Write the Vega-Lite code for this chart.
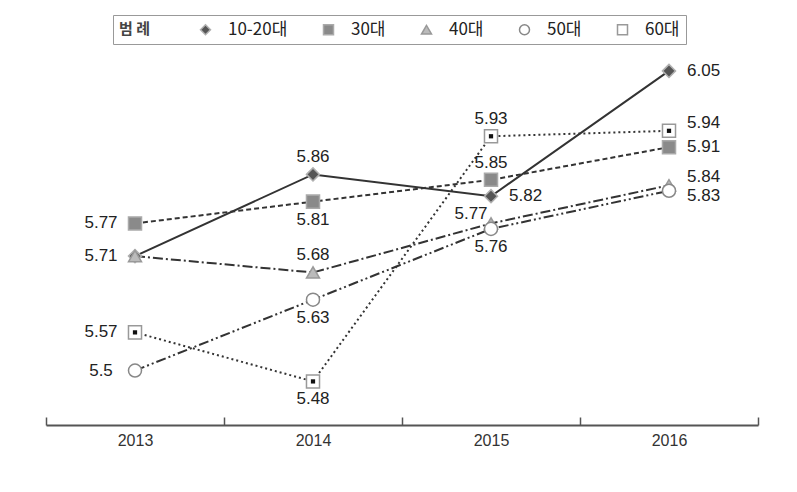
{
  "$schema": "https://vega.github.io/schema/vega-lite/v6.json",
  "width": 712,
  "height": 365,
  "autosize": "none",
  "padding": {"left": 46, "top": 60, "right": 39, "bottom": 67},
  "background": "white",
  "config": {
    "view": {"stroke": null},
    "font": "Liberation Sans",
    "legend": {
      "orient": "none", "legendX": 67, "legendY": -45, "direction": "horizontal", "columns": 5,
      "titleOrient": "left", "titleFont": "Noto Sans CJK KR", "titleFontSize": 15, "titleFontWeight": "bold", "titleColor": "#444", "titlePadding": 34,
      "labelFont": "Noto Sans CJK KR", "labelFontSize": 17, "labelColor": "#222",
      "symbolSize": 100, "symbolOffset": 12, "labelOffset": 14, "columnPadding": 20,
      "strokeColor": "#999", "padding": 6
    }
  },
  "data": {"values": [
    {"year": "2013", "group": "10-20대", "value": 5.71},
    {"year": "2014", "group": "10-20대", "value": 5.86},
    {"year": "2015", "group": "10-20대", "value": 5.82},
    {"year": "2016", "group": "10-20대", "value": 6.05},
    {"year": "2013", "group": "30대", "value": 5.77},
    {"year": "2014", "group": "30대", "value": 5.81},
    {"year": "2015", "group": "30대", "value": 5.85},
    {"year": "2016", "group": "30대", "value": 5.91},
    {"year": "2013", "group": "40대", "value": 5.71},
    {"year": "2014", "group": "40대", "value": 5.68},
    {"year": "2015", "group": "40대", "value": 5.77},
    {"year": "2016", "group": "40대", "value": 5.84},
    {"year": "2013", "group": "50대", "value": 5.50},
    {"year": "2014", "group": "50대", "value": 5.63},
    {"year": "2015", "group": "50대", "value": 5.76},
    {"year": "2016", "group": "50대", "value": 5.83},
    {"year": "2013", "group": "60대", "value": 5.57},
    {"year": "2014", "group": "60대", "value": 5.48},
    {"year": "2015", "group": "60대", "value": 5.93},
    {"year": "2016", "group": "60대", "value": 5.94}
  ]},
  "encoding": {
    "x": {"field": "year", "type": "ordinal", "title": null,
      "scale": {"type": "band", "paddingInner": 0, "paddingOuter": 0},
      "axis": {"labelAngle": 0, "labelFont": "Liberation Sans", "labelFontSize": 16, "labelColor": "#333", "domainColor": "#555", "domainWidth": 2, "tickColor": "#555", "tickWidth": 1.5, "tickSize": -8, "tickBand": "extent", "labelPadding": 15}},
    "y": {"field": "value", "type": "quantitative", "scale": {"domain": [5.4, 6.07], "zero": false, "nice": false}, "axis": null}
  },
  "layer": [
    {"transform": [{"filter": "datum.group == '10-20대'"}], "mark": {"type": "line", "strokeWidth": 2, "color": "#333"}},
    {"transform": [{"filter": "datum.group == '30대'"}], "mark": {"type": "line", "strokeWidth": 2, "color": "#333", "strokeDash": [5, 3]}},
    {"transform": [{"filter": "datum.group == '40대'"}], "mark": {"type": "line", "strokeWidth": 2, "color": "#333", "strokeDash": [10, 3, 2, 3]}},
    {"transform": [{"filter": "datum.group == '50대'"}], "mark": {"type": "line", "strokeWidth": 2, "color": "#333", "strokeDash": [10, 3, 2, 3, 2, 3]}},
    {"transform": [{"filter": "datum.group == '60대'"}], "mark": {"type": "line", "strokeWidth": 2, "color": "#333", "strokeDash": [2, 3]}},
    {
      "mark": {"type": "point", "filled": true, "strokeWidth": 1.5, "opacity": 1},
      "encoding": {
        "shape": {"field": "group", "type": "nominal", "title": "범 례",
          "scale": {"domain": ["10-20대", "30대", "40대", "50대", "60대"], "range": ["diamond", "square", "triangle-up", "circle", "square"]}},
        "fill": {"field": "group", "type": "nominal", "title": "범 례",
          "scale": {"domain": ["10-20대", "30대", "40대", "50대", "60대"], "range": ["#555555", "#8a8a8a", "#bbbbbb", "#ffffff", "#ffffff"]}},
        "stroke": {"field": "group", "type": "nominal", "title": "범 례",
          "scale": {"domain": ["10-20대", "30대", "40대", "50대", "60대"], "range": ["#b0b0b0", "#aaaaaa", "#999999", "#888888", "#999999"]}},
        "size": {"value": 170}
      }
    },
    {"transform": [{"filter": "datum.group == '60대'"}], "mark": {"type": "square", "size": 18, "color": "#111", "opacity": 1}},
    {
      "transform": [{"filter": "datum.year == '2013' && datum.group != '40대'"}],
      "mark": {"type": "text", "fontSize": 17, "color": "#222", "align": "center", "baseline": "middle", "dx": -34},
      "encoding": {"text": {"field": "value", "type": "quantitative", "format": ".3~g"}}
    },
    {
      "transform": [{"filter": "(datum.year == '2016' && datum.group != '60대' && datum.group != '40대' && datum.group != '50대') || (datum.year == '2015' && datum.group == '10-20대')"}],
      "mark": {"type": "text", "fontSize": 17, "color": "#222", "align": "left", "baseline": "middle", "dx": 18},
      "encoding": {"text": {"field": "value", "type": "quantitative", "format": ".3~g"}}
    },
    {
      "transform": [{"filter": "datum.year == '2016' && datum.group == '50대'"}],
      "mark": {"type": "text", "fontSize": 17, "color": "#222", "align": "left", "baseline": "middle", "dx": 18, "dy": 5},
      "encoding": {"text": {"field": "value", "type": "quantitative", "format": ".3~g"}}
    },
    {
      "transform": [{"filter": "datum.year == '2016' && (datum.group == '60대' || datum.group == '40대')"}],
      "mark": {"type": "text", "fontSize": 17, "color": "#222", "align": "left", "baseline": "middle", "dx": 18, "dy": -8},
      "encoding": {"text": {"field": "value", "type": "quantitative", "format": ".3~g"}}
    },
    {
      "transform": [{"filter": "(datum.year == '2014' && (datum.group == '10-20대' || datum.group == '40대')) || (datum.year == '2015' && (datum.group == '30대' || datum.group == '60대'))"}],
      "mark": {"type": "text", "fontSize": 17, "color": "#222", "align": "center", "baseline": "middle", "dy": -17},
      "encoding": {"text": {"field": "value", "type": "quantitative", "format": ".3~g"}}
    },
    {
      "transform": [{"filter": "datum.year == '2015' && datum.group == '40대'"}],
      "mark": {"type": "text", "fontSize": 17, "color": "#222", "align": "center", "baseline": "middle", "dx": -20, "dy": -9},
      "encoding": {"text": {"field": "value", "type": "quantitative", "format": ".3~g"}}
    },
    {
      "transform": [{"filter": "(datum.year == '2014' && datum.group != '10-20대' && datum.group != '40대') || (datum.year == '2015' && datum.group == '50대')"}],
      "mark": {"type": "text", "fontSize": 17, "color": "#222", "align": "center", "baseline": "middle", "dy": 18},
      "encoding": {"text": {"field": "value", "type": "quantitative", "format": ".3~g"}}
    }
  ]
}
